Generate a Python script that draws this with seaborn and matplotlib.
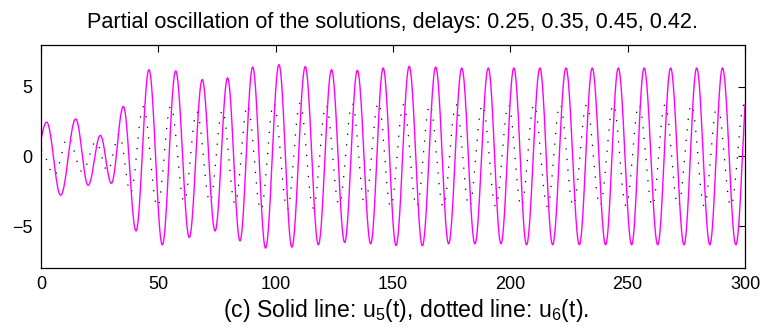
import numpy as np
import pandas as pd
import matplotlib
matplotlib.use("Agg")
import matplotlib.pyplot as plt
import seaborn as sns

# ---- data (extrema of each solution) ----
u5_t = [0.0, 2.4, 8.4, 14.8, 20.1, 25.3, 30.0, 35.1, 40.5, 46.0, 51.7, 57.4, 63.2,
        68.7, 74.2, 79.5, 84.8, 90.2, 95.7, 101.4, 106.9, 112.6, 118.2, 123.8,
        129.4, 134.8, 140.5, 145.8, 151.3, 156.9, 162.5, 168.2, 173.7, 179.3,
        184.9, 190.6, 196.0, 201.5, 206.9, 212.6, 218.0, 223.7, 229.4, 234.9,
        240.6, 246.0, 251.7, 257.0, 262.8, 268.3, 274.0, 279.4, 285.0, 290.4,
        296.1, 301.7]
u5_v = [1.2, 2.45, -2.78, 2.68, -2.07, 1.5, -1.93, 3.58, -5.34, 6.21, -6.34, 6.12,
        -5.81, 5.5, -5.34, 5.62, -6.05, 6.4, -6.57, 6.57, -6.5, 6.43, -6.33, 6.21,
        -6.17, 6.16, -6.26, 6.33, -6.38, 6.45, -6.4, 6.4, -6.26, 6.33, -6.26, 6.33,
        -6.26, 6.33, -6.33, 6.33, -6.33, 6.33, -6.33, 6.33, -6.33, 6.33, -6.33,
        6.33, -6.33, 6.33, -6.33, 6.33, -6.33, 6.33, -6.33, 6.33]

u6_t = [0.0, 5.6, 11.5, 17.6, 23.4, 28.4, 33.3, 38.2, 43.6, 49.6, 55.3, 61.0, 66.4,
        72.0, 77.3, 82.7, 88.0, 93.7, 99.2, 105.0, 110.4, 116.0, 121.5, 127.0,
        132.7, 138.0, 143.8, 149.0, 154.5, 160.1, 165.7, 171.4, 176.9, 182.5,
        188.1, 193.8, 199.2, 204.7, 210.1, 215.8, 221.2, 226.8, 232.5, 238.2,
        243.9, 249.3, 254.8, 260.5, 265.9, 271.5, 277.2, 282.6, 288.2, 294.0,
        299.6, 305.2]
u6_v = [0.45, -1.35, 1.35, -1.1, 1.05, -1.05, 1.6, -2.6, 3.55, -3.6, 3.6, -3.24,
        3.2, -3.24, 3.3, -3.4, 3.66, -3.85, 3.8, -3.8, 3.8, -3.7, 3.66, -3.45,
        3.76, -3.5, 3.85, -3.6, 3.7, -3.6, 3.7, -3.6, 3.7, -3.6, 3.7, -3.6, 3.7,
        -3.6, 3.7, -3.6, 3.7, -3.55, 3.7, -3.55, 3.7, -3.55, 3.7, -3.55, 3.7,
        -3.55, 3.7, -3.55, 3.7, -3.55, 3.7, -3.55]

title = "Partial oscillation of the solutions, delays: 0.25, 0.35, 0.45, 0.42."
xlabel = "(c) Solid line: u$_5$(t), dotted line: u$_6$(t)."
xticks = [0, 50, 100, 150, 200, 250, 300]
yticks = [-5, 0, 5]


def trace(tk, vk, first_rise=False, n=60):
    """Smooth half-cosine path through consecutive extrema."""
    ts, vs = [], []
    for i in range(len(tk) - 1):
        t0, t1, v0, v1 = tk[i], tk[i + 1], vk[i], vk[i + 1]
        s = np.linspace(0, 1, n, endpoint=False)
        if i == 0 and first_rise:
            w = np.sin(s * np.pi / 2)
        else:
            w = (1 - np.cos(s * np.pi)) / 2
        ts.append(t0 + s * (t1 - t0))
        vs.append(v0 + w * (v1 - v0))
    ts.append([tk[-1]])
    vs.append([vk[-1]])
    return np.concatenate(ts), np.concatenate(vs)


t5, y5 = trace(u5_t, u5_v, first_rise=True)
t6, y6 = trace(u6_t, u6_v)
df5 = pd.DataFrame({"t": t5, "u": y5})
df6 = pd.DataFrame({"t": t6, "u": y6})

sns.set_style("white")
plt.rcParams["font.family"] = ["Liberation Sans", "DejaVu Sans"]
plt.rcParams["mathtext.fontset"] = "custom"
plt.rcParams["mathtext.rm"] = "Liberation Sans"
plt.rcParams["mathtext.it"] = "Liberation Sans"
plt.rcParams["text.color"] = "black"
plt.rcParams["axes.labelcolor"] = "black"
plt.rcParams["xtick.color"] = "black"
plt.rcParams["ytick.color"] = "black"

fig = plt.figure(figsize=(7.66, 3.33), dpi=100)
ax = fig.add_axes([0.0535, 0.195, 0.9191, 0.6708])

sns.lineplot(data=df6, x="t", y="u", ax=ax, color="black", lw=0.9,
             linestyle=(0, (1, 7.5)), sort=False, estimator=None)
sns.lineplot(data=df5, x="t", y="u", ax=ax, color="#ff00ff", lw=1.0,
             sort=False, estimator=None)

ax.set_xlim(0, 300)
ax.set_ylim(-8, 8)
ax.set_xticks(xticks)
ax.set_yticks(yticks)
ax.tick_params(direction="in", top=True, right=True, length=5, width=0.8,
               labelsize=13, pad=6, colors="black")
for sp in ax.spines.values():
    sp.set_color("black")
    sp.set_linewidth(0.9)
ax.set_title(title, fontsize=15.6, pad=12, color="black")
ax.set_xlabel(xlabel, fontsize=16.6, labelpad=0, color="black")
ax.xaxis.set_label_coords(0.518, -0.13)
ax.xaxis.label.set_verticalalignment("top")
ax.set_ylabel("")

fig.savefig("out.png", dpi=100)
